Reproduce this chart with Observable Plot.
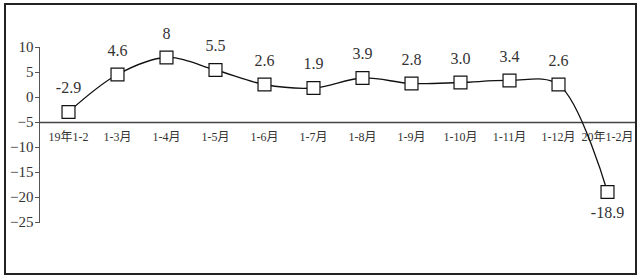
<!DOCTYPE html>
<html>
<head>
<meta charset="utf-8">
<script src="https://cdn.jsdelivr.net/npm/d3@7"></script>
<script src="https://cdn.jsdelivr.net/npm/@observablehq/plot@0.6"></script>
<style>
  html, body { margin: 0; padding: 0; background: #fff; }
  #wrap { position: relative; width: 641px; height: 280px; }
  #border { position: absolute; left: 4px; top: 3px; width: 629px; height: 268px; border: 2px solid #222; pointer-events: none; }
  #wrap svg, #wrap svg text { font-family: 'Liberation Serif', 'Noto Sans CJK SC', serif !important; }
</style>
</head>
<body>
<div id="wrap"><div id="border"></div></div>
<script>
const categories = ["19年1-2", "1-3月", "1-4月", "1-5月", "1-6月", "1-7月", "1-8月", "1-9月", "1-10月", "1-11月", "1-12月", "20年1-2月"];
const values = [-2.9, 4.6, 8, 5.5, 2.6, 1.9, 3.9, 2.8, 3.0, 3.4, 2.6, -18.9];
const valueLabels = ["-2.9", "4.6", "8", "5.5", "2.6", "1.9", "3.9", "2.8", "3.0", "3.4", "2.6", "-18.9"];
const yTicks = [10, 5, 0, -5, -10, -15, -20, -25];
const categoryAxisAt = -5;

const FONT = "Liberation Serif, Noto Sans CJK SC, serif";
const data = categories.map((c, i) => ({cat: c, value: values[i], label: valueLabels[i]}));
const above = data.filter(d => d.value > -10);
const below = data.filter(d => d.value <= -10);

const chart = Plot.plot({
  width: 641,
  height: 280,
  marginLeft: 39,
  marginRight: 5,
  marginTop: 47,
  marginBottom: 58,
  style: {background: "transparent"},
  x: {type: "point", domain: categories, padding: 0.5, axis: null},
  y: {domain: [-25, 10], axis: null},
  marks: [
    Plot.frame({anchor: "left", stroke: "#555", strokeWidth: 1}),
    Plot.axisY({ticks: yTicks, label: null, tickSize: 4, tickPadding: 2, fontSize: 15, stroke: "#555", color: "#333", fontFamily: FONT}),
    Plot.ruleY([categoryAxisAt], {stroke: "#444", strokeWidth: 1.5}),
    Plot.text(categories, {x: d => d, y: () => categoryAxisAt, dy: 15, fontSize: 12, fill: "#333", fontFamily: FONT}),
    Plot.line(data, {x: "cat", y: "value", curve: "catmull-rom", stroke: "#111", strokeWidth: 1.3}),
    Plot.dot(data, {x: "cat", y: "value", symbol: "square", r: 7.3, fill: "white", stroke: "#111", strokeWidth: 1.2}),
    Plot.text(above, {x: "cat", y: "value", text: "label", dy: -24, fontSize: 16, fill: "#333", fontFamily: FONT}),
    Plot.text(below, {x: "cat", y: "value", text: "label", dy: 21, fontSize: 16, fill: "#333", fontFamily: FONT})
  ]
});
document.getElementById("wrap").prepend(chart);
</script>
</body>
</html>
